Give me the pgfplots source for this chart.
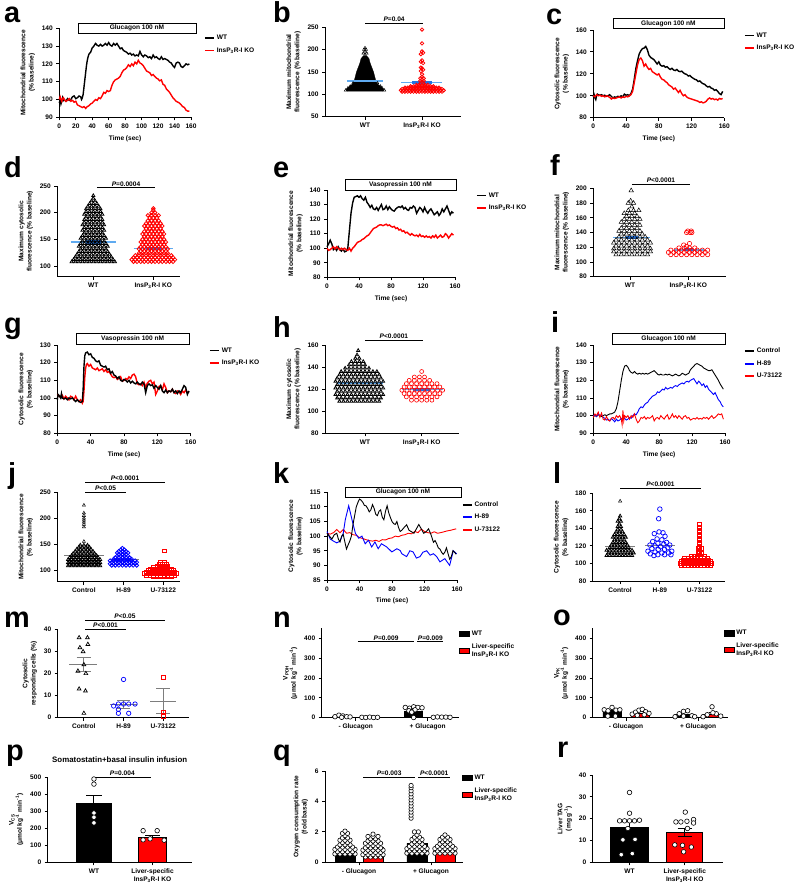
\documentclass[border=0pt]{standalone}
\usepackage{fontspec}
\setmainfont{Liberation Sans}
\usepackage{pgfplots}
\pgfplotsset{compat=1.18}

\definecolor{gpred}{RGB}{255,0,0}
\definecolor{gpblue}{RGB}{0,0,255}
\definecolor{mblue}{RGB}{95,170,240}
\definecolor{sblue}{RGB}{35,115,225}
\definecolor{mgray}{RGB}{125,125,125}

\newcommand{\gpf}{\fontsize{6.6}{8.3}\selectfont\bfseries}
\newcommand{\ko}{InsP\textsubscript{3}R-I KO}
\newcommand{\livko}{Liver-specific\\InsP\textsubscript{3}R-I KO}
\newcommand{\rate}{(μmol kg\textsuperscript{-1} min\textsuperscript{-1})}
\newcommand{\plab}[3]{\node[anchor=base west,inner sep=0pt,font=\fontsize{29}{29}\selectfont\bfseries] at (#1bp,-#2bp) {#3};}
\newcommand{\pbar}[4]{\draw[line width=0.9bp] (axis cs:#1,#3) -- (axis cs:#2,#3) node[midway,above,inner sep=1bp,font=\gpf] {#4};}
\newcommand{\stim}[5]{\node[draw,line width=0.9bp,fill=white,minimum width=#3bp,minimum height=#4bp,inner sep=0pt,font=\gpf] at (axis cs:#1,#2) {#5};}

\pgfplotsset{
  gp/.style={
    scale only axis, anchor=north west, clip=false,
    axis x line=bottom, axis y line=left,
    axis line style={-, line width=0.9bp},
    tick align=outside, major tick length=3bp,
    every tick/.style={black, line width=0.9bp},
    font=\gpf, tick label style={font=\gpf},
    /pgf/number format/assume math mode=true,
    ylabel style={align=center}, xticklabel style={align=center},
    legend style={draw=none, fill=none, font=\gpf, inner sep=0pt, outer sep=0pt,
      row sep=2.5bp, cells={anchor=west, align=left}},
    legend cell align=left,
  },
  legline/.style={legend image code/.code={\draw[##1, line width=1.8bp] (0bp,0bp) -- (9bp,0bp);}},
  legbox/.style={legend image code/.code={\draw[##1, draw=black, line width=0.5bp] (0bp,-2.5bp) rectangle (10bp,3bp);}},
  ts/.style={gp, legline, xmin=0, xmax=160, xlabel={Time (sec)}},
  tri/.style={only marks, mark=triangle, line width=0.5bp},
  cir/.style={only marks, mark=o, line width=0.6bp},
  sqr/.style={only marks, mark=square, line width=0.6bp},
  wdot/.style={only marks, mark=*, mark size=2.3bp, mark options={fill=white, draw=black, line width=0.6bp}},
  bar/.style={ybar, bar shift=0pt, draw=black, line width=0.8bp, forget plot},
}

\begin{document}
\begin{tikzpicture}
\useasboundingbox (0,0) rectangle (800bp,-883bp);

\plab{4}{22}{a}\plab{273}{22}{b}\plab{546}{24}{c}
\plab{4}{177}{d}\plab{273}{177}{e}\plab{550}{175}{f}
\plab{4}{333}{g}\plab{273}{337}{h}\plab{551}{332}{i}
\plab{8}{483}{j}\plab{273}{483}{k}\plab{553}{483}{l}
\plab{4}{627}{m}\plab{273}{627}{n}\plab{553}{625}{o}
\plab{6}{760}{p}\plab{273}{760}{q}\plab{557}{757}{r}

% ---------------- a
\begin{axis}[ts, at={(59.3bp,-28.3bp)}, width=131.7bp, height=89bp,
  ymin=90, ymax=140, xtick={0,20,...,160}, ytick={90,100,...,140},
  ylabel={Mitochondrial fluorescence\\(\% baseline)},
  legend style={at={(1.099,0.947)}, anchor=north west}]
\addlegendimage{black}\addlegendentry{WT}
\addlegendimage{gpred}\addlegendentry{\ko}
\addplot[black, line width=1.4bp] coordinates {(0,98)(1,100)(2,97.5)(3,99)(4,101)(5,99.5)(6,100)(8,99)(10,100.5)(12,99.5)(14,100)(16,101.5)(18,102)(20,100.5)(22,101)(24,102)(26,101.5)(27,100)(28,101)(29,103)(30,107)(31,111)(32,115)(33,119)(34,122)(35,124)(36,125.5)(38,126.5)(40,129)(42,130)(44,131.5)(46,130.5)(48,130)(50,131)(52,130)(54,130.5)(56,131.5)(58,130.5)(60,132)(62,130.5)(64,130)(66,131.5)(68,130.5)(70,131.5)(72,130)(74,128.5)(76,129)(78,127.5)(80,127)(82,126.5)(84,125.5)(86,126)(88,125)(90,125.5)(92,124.5)(94,125)(96,124.5)(98,127)(100,125)(102,124)(104,125)(106,124.5)(108,123.5)(110,124)(112,123)(114,125)(116,123.5)(118,124)(120,123)(122,122.5)(124,124)(126,122.5)(128,123)(130,122.5)(132,122)(134,121)(136,120.5)(138,119)(140,118)(142,120.5)(144,121)(146,120.5)(148,118.5)(150,118)(152,119)(154,120)(156,119.5)(158,120)};
\addplot[gpred, line width=1.4bp] coordinates {(0,100)(1,101.5)(2,100)(3,99)(4,100.5)(5,101)(6,100)(8,99)(10,99.5)(12,100.5)(14,99)(16,99.5)(18,98.5)(20,99)(22,97)(24,96.5)(26,96)(28,95.5)(30,96)(32,95)(34,96)(36,96.5)(38,97.5)(40,98)(42,99)(44,100)(46,99.5)(48,101)(50,100.5)(52,102)(54,104)(56,103.5)(58,105)(60,104.5)(62,105)(64,108)(66,110)(68,111)(70,111.5)(72,112)(74,113)(76,115)(78,116.5)(80,117)(82,118)(84,119.5)(86,118.5)(88,120)(90,119)(92,121)(94,120)(96,122)(98,120.5)(100,120)(102,119)(104,117.5)(106,116)(108,115.5)(110,115)(112,113.5)(114,114)(116,113)(118,112)(120,111.5)(122,110.5)(124,111)(126,108.5)(128,108)(130,106)(132,105)(134,104)(136,102.5)(138,101)(140,100)(142,99)(144,98.5)(146,98)(148,97)(150,96)(152,95.5)(154,94)(156,93.5)(158,93.5)};
\stim{94.4}{140}{118}{10}{Glucagon 100 nM}
\end{axis}

% ---------------- b
\begin{axis}[gp, at={(325bp,-27.3bp)}, width=136bp, height=89.4bp,
  xmin=0.298, xmax=2.684, ymin=50, ymax=250, xtick={1,2}, xticklabels={WT,\ko},
  ytick={50,100,...,250}, ylabel={Maximum mitochondrial\\fluorescence (\% baseline)}]
\addplot[fill=black, draw=black, line width=0.3bp] coordinates {(0.69,107)(1.31,107)(1.33,110)(1.31,114)(1.27,118)(1.22,123)(1.19,130)(1.17,140)(1.15,150)(1.12,160)(1.09,170)(1.07,180)(1.03,186)(0.97,186)(0.93,180)(0.91,170)(0.88,160)(0.85,150)(0.83,140)(0.81,130)(0.78,123)(0.73,118)(0.69,114)(0.67,110)(0.69,107)};
\addplot[tri, black, mark size=1.6bp] coordinates {(1.0,189)(0.97,192)(1.03,192)(1.0,196)(0.98,200)(1.02,200)(1.0,204)(0.66,109)(1.34,109)(0.7,114)(1.3,114)(0.74,118)(1.27,118)(0.79,125)(1.22,125)};
\addplot[cir, gpred, mark size=1.7bp, line width=0.8bp] coordinates {
(1.65,106)(1.70,106)(1.75,106)(1.80,106)(1.85,106)(1.90,106)(1.95,106)(2.00,106)(2.05,106)(2.10,106)(2.15,106)(2.20,106)(2.25,106)(2.30,106)(2.35,106)
(1.63,109)(1.68,109)(1.73,109)(1.78,109)(1.83,109)(1.88,109)(1.93,109)(1.98,109)(2.03,109)(2.08,109)(2.13,109)(2.18,109)(2.23,109)(2.28,109)(2.33,109)(2.38,109)
(1.65,112)(1.70,112)(1.75,112)(1.80,112)(1.85,112)(1.90,112)(1.95,112)(2.00,112)(2.05,112)(2.10,112)(2.15,112)(2.20,112)(2.25,112)(2.30,112)(2.35,112)
(1.70,115)(1.75,115)(1.80,115)(1.85,115)(1.90,115)(1.95,115)(2.00,115)(2.05,115)(2.10,115)(2.15,115)(2.20,115)(2.25,115)(2.30,115)
(1.80,118)(1.85,118)(1.90,118)(1.95,118)(2.00,118)(2.05,118)(2.10,118)(2.15,118)(2.20,118)
(1.90,121)(1.95,121)(2.00,121)(2.05,121)(2.10,121)
(1.97,124)(2.03,124)(2.0,127)(1.97,130)(2.03,130)(2.0,133)(1.97,136)(2.03,136)(2.0,139)(2.0,145)(1.98,152)(2.02,155)(2.0,158)(1.98,160)(2.02,170)(1.98,173)(2.0,176)(1.98,190)(2.02,193)(2.0,196)(2.0,214)(2.0,245)};
\addplot[mblue, line width=1.5bp] coordinates {(0.68,130)(1.32,130)};
\addplot[mblue, line width=1.5bp] coordinates {(1.63,127)(2.35,127)};
\addplot[sblue, line width=3.5bp] coordinates {(1.83,127)(2.17,127)};
\pbar{1.0}{2.02}{259}{\textit{P}=0.04}
\end{axis}

% ---------------- c
\begin{axis}[ts, at={(593.3bp,-30bp)}, width=131bp, height=87.7bp,
  ymin=80, ymax=160, xtick={0,40,...,160}, ytick={80,100,...,160},
  ylabel={Cytosolic fluorescence\\(\% baseline)},
  legend style={at={(1.15,0.994)}, anchor=north west}]
\addlegendimage{black}\addlegendentry{WT}
\addlegendimage{gpred}\addlegendentry{\ko}
\addplot[black, line width=1.4bp] coordinates {(0,99)(1,101)(2,98)(3,96.5)(4,100)(5,101.5)(6,101)(8,100.5)(10,101)(12,100)(14,100.5)(16,99.5)(18,100)(20,101)(22,99.5)(24,98)(26,99)(28,98.5)(30,99.5)(32,99)(34,100)(36,99)(38,101.5)(40,100.5)(42,101)(44,100)(46,102)(48,106)(50,115)(52,125)(54,132)(56,138)(58,141)(60,143)(62,143.5)(64,145)(66,142)(68,137)(70,135)(72,134)(74,133)(76,131)(78,129)(80,131)(82,128)(84,127)(86,127.5)(88,126)(90,126.5)(92,125)(94,124)(96,125)(98,123.5)(100,123)(102,124)(104,122.5)(106,122)(108,122.5)(110,121)(112,120)(114,119.5)(116,118)(118,118.5)(120,117)(122,116)(124,115)(126,114.5)(128,113)(130,113.5)(132,112)(134,111)(136,110.5)(138,109)(140,108)(142,108.5)(144,107)(146,106.5)(148,105)(150,105.5)(152,104)(154,102)(156,101)(158,104)};
\addplot[gpred, line width=1.4bp] coordinates {(0,100)(2,99)(4,101)(6,100)(8,100.5)(10,99.5)(12,100)(14,99)(16,100)(18,99.5)(20,98.5)(22,97)(24,98)(26,97.5)(28,98)(30,98.5)(32,99)(34,98)(36,99)(38,98.5)(40,99.5)(42,99)(44,100)(46,101)(48,104)(50,112)(52,120)(54,128)(56,133)(58,134.5)(60,132)(62,127)(64,129)(66,126)(68,124)(70,125)(72,122)(74,121)(76,120)(78,119)(80,120)(82,117)(84,115)(86,114.5)(88,113)(90,112)(92,110)(94,109)(96,108)(98,106)(100,107)(102,105)(104,103)(106,105)(108,102)(110,100)(112,101)(114,99)(116,98)(118,97.5)(120,97)(122,96.5)(124,96)(126,95.5)(128,95)(130,94)(132,94.5)(134,93.5)(136,94)(138,95)(140,97)(142,98)(144,97)(146,97.5)(148,96.5)(150,97)(152,96)(154,97.5)(156,97)(158,97.5)};
\stim{91.8}{165.9}{111}{9.5}{Glucagon 100 nM}
\end{axis}

% ---------------- d
\begin{axis}[gp, at={(57.3bp,-186bp)}, width=122.7bp, height=90.7bp,
  xmin=0.4, xmax=2.445, ymin=80, ymax=250, xtick={1,2}, xticklabels={WT,\ko},
  ytick={100,150,200,250}, ylabel={Maximum cytosolic\\fluorescence (\% baseline)}]
\addplot[tri, black, mark size=1.8bp, line width=0.8bp] coordinates {
(0.64,108)(0.70,108)(0.76,108)(0.82,108)(0.88,108)(0.94,108)(1.00,108)(1.06,108)(1.12,108)(1.18,108)(1.24,108)(1.30,108)(1.36,108)
(0.67,112)(0.73,112)(0.79,112)(0.85,112)(0.91,112)(0.97,112)(1.03,112)(1.09,112)(1.15,112)(1.21,112)(1.27,112)(1.33,112)
(0.70,117)(0.76,117)(0.82,117)(0.88,117)(0.94,117)(1.00,117)(1.06,117)(1.12,117)(1.18,117)(1.24,117)(1.30,117)
(0.73,122)(0.79,122)(0.85,122)(0.91,122)(0.97,122)(1.03,122)(1.09,122)(1.15,122)(1.21,122)(1.27,122)
(0.76,127)(0.82,127)(0.88,127)(0.94,127)(1.00,127)(1.06,127)(1.12,127)(1.18,127)(1.24,127)
(0.79,132)(0.85,132)(0.91,132)(0.97,132)(1.03,132)(1.09,132)(1.15,132)(1.21,132)
(0.76,137)(0.82,137)(0.88,137)(0.94,137)(1.00,137)(1.06,137)(1.12,137)(1.18,137)(1.24,137)
(0.79,142)(0.85,142)(0.91,142)(0.97,142)(1.03,142)(1.09,142)(1.15,142)(1.21,142)
(0.82,147)(0.88,147)(0.94,147)(1.00,147)(1.06,147)(1.12,147)(1.18,147)
(0.79,152)(0.85,152)(0.91,152)(0.97,152)(1.03,152)(1.09,152)(1.15,152)(1.21,152)
(0.82,157)(0.88,157)(0.94,157)(1.00,157)(1.06,157)(1.12,157)(1.18,157)
(0.85,162)(0.91,162)(0.97,162)(1.03,162)(1.09,162)(1.15,162)
(0.82,167)(0.88,167)(0.94,167)(1.00,167)(1.06,167)(1.12,167)(1.18,167)
(0.85,172)(0.91,172)(0.97,172)(1.03,172)(1.09,172)(1.15,172)
(0.82,177)(0.88,177)(0.94,177)(1.00,177)(1.06,177)(1.12,177)(1.18,177)
(0.85,182)(0.91,182)(0.97,182)(1.03,182)(1.09,182)(1.15,182)
(0.85,187)(0.91,187)(0.97,187)(1.03,187)(1.09,187)(1.15,187)
(0.88,192)(0.94,192)(1.00,192)(1.06,192)(1.12,192)
(0.85,197)(0.91,197)(0.97,197)(1.03,197)(1.09,197)(1.15,197)
(0.88,202)(0.94,202)(1.00,202)(1.06,202)(1.12,202)
(0.88,207)(0.94,207)(1.00,207)(1.06,207)(1.12,207)
(0.91,212)(0.97,212)(1.03,212)(1.09,212)
(0.94,217)(1.00,217)(1.06,217)(0.97,222)(1.03,222)(1.00,227)(1.00,232)};
\addplot[cir, gpred, mark size=1.8bp, line width=0.8bp] coordinates {
(1.67,108)(1.73,108)(1.79,108)(1.85,108)(1.91,108)(1.97,108)(2.03,108)(2.09,108)(2.15,108)(2.21,108)(2.27,108)(2.33,108)
(1.64,112)(1.70,112)(1.76,112)(1.82,112)(1.88,112)(1.94,112)(2.00,112)(2.06,112)(2.12,112)(2.18,112)(2.24,112)(2.30,112)(2.36,112)
(1.67,116)(1.73,116)(1.79,116)(1.85,116)(1.91,116)(1.97,116)(2.03,116)(2.09,116)(2.15,116)(2.21,116)(2.27,116)(2.33,116)
(1.70,120)(1.76,120)(1.82,120)(1.88,120)(1.94,120)(2.00,120)(2.06,120)(2.12,120)(2.18,120)(2.24,120)(2.30,120)
(1.76,124)(1.82,124)(1.88,124)(1.94,124)(2.00,124)(2.06,124)(2.12,124)(2.18,124)(2.24,124)
(1.79,128)(1.85,128)(1.91,128)(1.97,128)(2.03,128)(2.09,128)(2.15,128)(2.21,128)
(1.76,132)(1.82,132)(1.88,132)(1.94,132)(2.00,132)(2.06,132)(2.12,132)(2.18,132)(2.24,132)
(1.79,136)(1.85,136)(1.91,136)(1.97,136)(2.03,136)(2.09,136)(2.15,136)(2.21,136)
(1.82,140)(1.88,140)(1.94,140)(2.00,140)(2.06,140)(2.12,140)(2.18,140)
(1.79,145)(1.85,145)(1.91,145)(1.97,145)(2.03,145)(2.09,145)(2.15,145)(2.21,145)
(1.82,150)(1.88,150)(1.94,150)(2.00,150)(2.06,150)(2.12,150)(2.18,150)
(1.85,155)(1.91,155)(1.97,155)(2.03,155)(2.09,155)(2.15,155)
(1.82,160)(1.88,160)(1.94,160)(2.00,160)(2.06,160)(2.12,160)(2.18,160)
(1.85,165)(1.91,165)(1.97,165)(2.03,165)(2.09,165)(2.15,165)
(1.88,170)(1.94,170)(2.00,170)(2.06,170)(2.12,170)
(1.85,175)(1.91,175)(1.97,175)(2.03,175)(2.09,175)(2.15,175)
(1.88,180)(1.94,180)(2.00,180)(2.06,180)(2.12,180)
(1.91,185)(1.97,185)(2.03,185)(2.09,185)(1.94,190)(2.00,190)(2.06,190)
(1.91,195)(1.97,195)(2.03,195)(2.09,195)(1.97,200)(2.03,200)(2.00,205)(2.00,208)};
\addplot[mblue, line width=1.5bp] coordinates {(0.62,145)(1.37,145)};
\addplot[sblue, line width=3.5bp] coordinates {(0.87,145)(1.13,145)};
\addplot[mblue, line width=1.5bp] coordinates {(1.67,133)(2.33,133)};
\addplot[sblue, line width=3.5bp] coordinates {(1.88,133)(2.12,133)};
\pbar{1.06}{2.03}{246.8}{\textit{P}=0.0004}
\end{axis}

% ---------------- e
\begin{axis}[ts, at={(327bp,-190bp)}, width=128bp, height=87.3bp,
  ymin=80, ymax=140, xtick={0,40,...,160}, ytick={80,90,...,140},
  ylabel={Mitochondrial fluorescence\\(\% baseline)},
  legend style={at={(1.164,0.994)}, anchor=north west}]
\addlegendimage{black}\addlegendentry{WT}
\addlegendimage{gpred}\addlegendentry{\ko}
\addplot[black, line width=1.4bp] coordinates {(0,101)(2,103)(4,105.5)(6,103)(8,99)(10,100)(12,98.5)(14,101)(16,99)(18,98)(20,99.5)(22,97.5)(24,98)(26,100)(28,112)(30,124)(32,131)(34,135)(36,135.5)(38,136)(40,135)(42,136)(44,134)(46,133)(48,135)(50,131.5)(52,130)(54,128)(56,129.5)(58,127)(60,126.5)(62,128)(64,126)(66,128)(68,130)(70,126.5)(72,127)(74,129)(76,126.5)(78,128.5)(80,127)(82,126)(84,125.5)(86,127)(88,128)(90,128.5)(92,128)(94,129)(96,127)(98,128)(100,126.5)(102,126)(104,128)(106,127.5)(108,129)(110,128)(112,124)(114,126)(116,128)(118,127)(120,125)(122,128)(124,125.5)(126,124)(128,126)(130,127)(132,125)(134,123)(136,124)(138,125)(140,122.5)(142,124)(144,127)(146,125)(148,127)(150,129)(152,126)(154,123)(156,125)(158,124)};
\addplot[gpred, line width=1.4bp] coordinates {(0,100)(2,98.5)(4,99)(6,100)(8,101)(10,99.5)(12,101)(14,100)(16,99)(18,100)(20,99)(22,100)(24,99)(26,98.5)(28,100)(30,98)(32,100)(34,101)(36,102.5)(38,104)(40,104.5)(42,105)(44,106)(46,106.5)(48,107.5)(50,108.5)(52,109)(54,110.5)(56,112)(58,113.5)(60,114)(62,114.5)(64,115.5)(66,116)(68,116)(70,115.5)(72,116)(74,116.5)(76,115.5)(78,116)(80,115)(82,114.5)(84,115)(86,113.5)(88,114)(90,112.5)(92,113)(94,111.5)(96,112)(98,110.5)(100,111)(102,110)(104,109)(106,110)(108,109)(110,108.5)(112,109)(114,108)(116,109.5)(118,108)(120,108.5)(122,107.5)(124,108.5)(126,107.5)(128,108)(130,107)(132,108.5)(134,107.5)(136,109)(138,107)(140,108)(142,109)(144,107.5)(146,108)(148,110)(150,109)(152,107)(154,108.5)(156,110)(158,109)};
\stim{91.9}{143.4}{111}{11}{Vasopressin 100 nM}
\end{axis}

% ---------------- f
\begin{axis}[gp, at={(593.3bp,-188.3bp)}, width=132.7bp, height=88.4bp,
  xmin=0.37, xmax=2.646, ymin=80, ymax=200, xtick={1,2}, xticklabels={WT,\ko},
  ytick={80,100,...,200}, ylabel={Maximum mitochondrial\\fluorescence (\% baseline)}]
\addplot[tri, black, mark size=2.5bp] coordinates {
(0.76,110)(0.85,110)(0.94,110)(1.03,110)(1.12,110)(1.21,110)(1.30,110)
(0.72,114)(0.81,114)(0.90,114)(0.99,114)(1.08,114)(1.17,114)(1.26,114)(1.35,114)
(0.72,118)(0.81,118)(0.90,118)(0.99,118)(1.08,118)(1.17,118)(1.26,118)(1.35,118)
(0.76,122)(0.85,122)(0.94,122)(1.03,122)(1.12,122)(1.21,122)(1.30,122)
(0.72,126)(0.81,126)(0.90,126)(0.99,126)(1.08,126)(1.17,126)(1.26,126)(1.35,126)
(0.76,130)(0.85,130)(0.94,130)(1.03,130)(1.12,130)(1.21,130)(1.30,130)
(0.81,134)(0.90,134)(0.99,134)(1.08,134)(1.17,134)(1.26,134)
(0.85,138)(0.94,138)(1.03,138)(1.12,138)(1.21,138)
(0.81,142)(0.90,142)(0.99,142)(1.08,142)(1.17,142)
(0.85,146)(0.94,146)(1.03,146)(1.12,146)
(0.90,150)(0.99,150)(1.08,150)(1.17,150)
(0.85,154)(0.94,154)(1.03,154)(1.12,154)
(0.90,158)(0.99,158)(1.08,158)(1.17,158)
(0.94,162)(1.03,162)(1.12,162)(0.90,166)(0.99,166)(1.08,166)
(0.97,170)(1.06,170)(1.15,170)(1.03,175)(0.97,180)(1.06,180)(1.01,183)(1.02,197)};
\addplot[cir, gpred, mark size=2.2bp] coordinates {
(1.70,110)(1.79,110)(1.88,110)(1.97,110)(2.06,110)(2.15,110)(2.24,110)(2.33,110)
(1.66,113)(1.75,113)(1.84,113)(1.93,113)(2.02,113)(2.11,113)(2.20,113)(2.29,113)
(1.70,116)(1.79,116)(1.88,116)(1.97,116)(2.06,116)(2.15,116)(2.24,116)(2.33,116)
(1.84,119)(1.93,119)(2.02,119)(2.11,119)(1.97,121)(1.92,123)(2.02,125)
(1.97,140)(2.03,140)(2.06,140)(1.99,142)(2.05,142)};
\addplot[mblue, line width=1.5bp] coordinates {(0.71,133.5)(1.34,133.5)};
\addplot[sblue, line width=3bp] coordinates {(0.93,133.5)(1.13,133.5)};
\addplot[mblue, line width=1.5bp] coordinates {(1.75,116.5)(2.27,116.5)};
\addplot[sblue, line width=3bp] coordinates {(1.92,116.5)(2.08,116.5)};
\pbar{1.03}{2.03}{205.8}{\textit{P}<0.0001}
\end{axis}

% ---------------- g
\begin{axis}[ts, at={(57.3bp,-345bp)}, width=133.4bp, height=88.3bp,
  ymin=80, ymax=130, xtick={0,40,...,160}, ytick={80,90,...,130},
  ylabel={Cytosolic fluorescence\\(\% baseline)},
  legend style={at={(1.137,0.994)}, anchor=north west}]
\addlegendimage{black}\addlegendentry{WT}
\addlegendimage{gpred}\addlegendentry{\ko}
\addplot[gpred, line width=1.4bp] coordinates {(0,102)(2,101)(4,100.5)(6,101.5)(8,99.5)(10,101)(12,100)(14,99)(16,101)(18,100.5)(20,99)(22,101)(24,99)(26,98)(28,99)(30,97)(31,98)(32,104)(33,112)(34,117)(35,119)(36,119.5)(38,118)(40,119)(42,117)(44,116.5)(46,116)(48,117)(50,115.5)(52,116)(54,116.5)(56,115)(58,116)(60,114.5)(62,115)(64,113.5)(66,112)(68,111.5)(70,112)(72,110.5)(74,111)(76,112)(78,109.5)(80,110)(82,111)(84,110.5)(86,112)(88,111)(90,113)(92,113.5)(94,112)(96,108)(98,107.5)(100,108)(102,107)(104,109)(106,106)(108,108.5)(110,109.5)(112,110)(114,108)(116,109)(118,102)(120,104)(122,106.5)(124,107)(126,104.5)(128,108)(130,106)(132,103)(134,104)(136,103.5)(138,105)(140,103)(142,102.5)(144,104)(146,103.5)(148,102)(150,104)(152,103)(154,104.5)(156,103)(158,103.5)};
\addplot[black, line width=1.4bp] coordinates {(0,99)(1,102)(2,101.5)(4,100)(5,102.5)(6,100)(8,99.5)(10,100)(12,99)(14,100)(16,99.5)(18,100)(20,99)(22,98)(24,99)(26,98)(28,97.5)(30,98)(31,105)(32,118)(33,124)(34,125.5)(36,126)(38,124.5)(40,125)(42,123)(44,122.5)(46,121)(48,120.5)(50,121)(52,118.5)(54,118)(56,117.5)(58,118)(60,116)(62,116.5)(64,114)(66,115)(68,113)(70,112.5)(72,111)(74,112)(76,110)(78,109.5)(80,110.5)(82,110)(84,109)(86,110)(88,108.5)(90,109.5)(92,108.5)(94,108)(96,109)(98,108)(100,107.5)(102,109)(104,108)(106,103)(108,107)(110,108)(112,107)(114,107.5)(116,105.5)(118,107)(120,106)(122,105)(124,107)(126,104)(128,103)(130,104.5)(132,103)(134,104)(136,103.5)(138,105)(140,103)(142,104)(144,102.5)(146,104)(148,103)(150,105)(152,107)(154,106)(156,102)(158,104)};
\stim{90.4}{133.7}{113}{11}{Vasopressin 100 nM}
\end{axis}

% ---------------- h
\begin{axis}[gp, at={(325bp,-345bp)}, width=134bp, height=88.3bp,
  xmin=0.295, xmax=2.658, ymin=80, ymax=160, xtick={1,2}, xticklabels={WT,\ko},
  ytick={80,100,...,160}, ylabel={Maximum cytosolic\\fluorescence (\% baseline)}]
\addplot[tri, black, mark size=1.8bp, line width=0.8bp] coordinates {
(0.55,109)(0.62,109)(0.69,109)(0.76,109)(0.83,109)(0.90,109)(0.97,109)(1.04,109)(1.11,109)(1.18,109)(1.25,109)
(0.51,112)(0.58,112)(0.65,112)(0.72,112)(0.79,112)(0.86,112)(0.93,112)(1.00,112)(1.07,112)(1.14,112)(1.21,112)(1.28,112)
(0.48,115)(0.55,115)(0.62,115)(0.69,115)(0.76,115)(0.83,115)(0.90,115)(0.97,115)(1.04,115)(1.11,115)(1.18,115)(1.25,115)(1.32,115)
(0.51,118)(0.58,118)(0.65,118)(0.72,118)(0.79,118)(0.86,118)(0.93,118)(1.00,118)(1.07,118)(1.14,118)(1.21,118)(1.28,118)
(0.48,121)(0.55,121)(0.62,121)(0.69,121)(0.76,121)(0.83,121)(0.90,121)(0.97,121)(1.04,121)(1.11,121)(1.18,121)(1.25,121)(1.32,121)
(0.51,124)(0.58,124)(0.65,124)(0.72,124)(0.79,124)(0.86,124)(0.93,124)(1.00,124)(1.07,124)(1.14,124)(1.21,124)(1.28,124)
(0.48,127)(0.55,127)(0.62,127)(0.69,127)(0.76,127)(0.83,127)(0.90,127)(0.97,127)(1.04,127)(1.11,127)(1.18,127)(1.25,127)(1.32,127)
(0.51,130)(0.58,130)(0.65,130)(0.72,130)(0.79,130)(0.86,130)(0.93,130)(1.00,130)(1.07,130)(1.14,130)(1.21,130)(1.28,130)
(0.55,133)(0.62,133)(0.69,133)(0.76,133)(0.83,133)(0.90,133)(0.97,133)(1.04,133)(1.11,133)(1.18,133)(1.25,133)
(0.58,136)(0.65,136)(0.72,136)(0.79,136)(0.86,136)(0.93,136)(1.00,136)(1.07,136)(1.14,136)(1.21,136)
(0.65,139)(0.72,139)(0.79,139)(0.86,139)(0.93,139)(1.00,139)(1.07,139)
(0.72,142)(0.79,142)(0.86,142)(0.93,142)(1.00,142)
(0.76,145)(0.83,145)(0.90,145)(0.97,145)(0.83,148)(0.90,148)(0.86,151)(0.88,155)};
\addplot[cir, gpred, mark size=2bp] coordinates {
(1.82,110)(1.91,110)(2.00,110)(2.09,110)(2.18,110)
(1.73,113)(1.82,113)(1.91,113)(2.00,113)(2.09,113)(2.18,113)(2.27,113)
(1.69,116)(1.78,116)(1.87,116)(1.96,116)(2.05,116)(2.14,116)(2.23,116)(2.32,116)
(1.65,119)(1.74,119)(1.83,119)(1.92,119)(2.01,119)(2.10,119)(2.19,119)(2.28,119)(2.37,119)
(1.69,122)(1.78,122)(1.87,122)(1.96,122)(2.05,122)(2.14,122)(2.23,122)(2.32,122)
(1.73,125)(1.82,125)(1.91,125)(2.00,125)(2.09,125)(2.18,125)(2.27,125)
(1.78,128)(1.87,128)(1.96,128)(2.05,128)(2.14,128)
(1.87,131)(1.96,131)(2.05,131)(2.00,136)};
\addplot[mblue, line width=1.5bp] coordinates {(0.5,125.5)(1.32,125.5)};
\addplot[mblue, line width=1.5bp] coordinates {(1.65,119.5)(2.37,119.5)};
\addplot[sblue, line width=3bp] coordinates {(1.85,119.5)(2.15,119.5)};
\pbar{1.0}{2.02}{164.5}{\textit{P}<0.0001}
\end{axis}

% ---------------- i
\begin{axis}[ts, at={(593.3bp,-345bp)}, width=131.7bp, height=88.3bp,
  ymin=90, ymax=140, xtick={0,40,...,160}, ytick={90,100,...,140},
  ylabel={Mitochondrial fluorescence\\(\% baseline)},
  legend style={at={(1.144,0.989)}, anchor=north west}]
\addlegendimage{black}\addlegendentry{Control}
\addlegendimage{gpblue}\addlegendentry{H-89}
\addlegendimage{gpred}\addlegendentry{U-73122}
\addplot[black, line width=0.9bp] coordinates {(0,99.5)(2,100)(4,99.5)(6,100.5)(8,100)(10,99.5)(12,100)(14,100.5)(16,100)(18,100.5)(20,101)(22,101)(24,101.5)(26,102)(28,104)(30,108)(32,114)(34,120)(36,125)(38,128)(40,128.5)(42,127.5)(44,125.5)(46,124.5)(48,124)(50,125)(52,124)(54,123.5)(56,124)(58,123.5)(60,124)(62,123.5)(64,124)(66,123.5)(68,124)(70,124.5)(72,125)(74,125.5)(76,124.5)(78,123.5)(80,123)(82,123.5)(84,123)(86,123)(88,123.5)(90,123)(92,123.5)(94,123)(96,122.5)(98,123)(100,123.5)(102,123)(104,122.5)(106,123)(108,124)(110,123.5)(112,123)(114,123.5)(116,124)(118,126)(120,127)(122,128)(124,129)(126,129.5)(128,129)(130,128.5)(132,128)(134,127)(136,126.5)(138,126)(140,125.5)(142,125.5)(144,126)(146,124.5)(148,123)(150,121.5)(152,120)(154,118)(156,116.5)(158,115)};
\addplot[gpblue, line width=0.9bp] coordinates {(0,100)(2,100.5)(4,99.5)(6,101)(8,100)(10,100.5)(12,99)(14,98.5)(16,97.5)(18,98)(20,97)(22,98.5)(24,97.5)(26,96.5)(28,98)(30,97)(32,97.5)(34,98.5)(36,98)(38,98.5)(40,97.5)(42,98)(44,99)(46,98.5)(48,100)(50,101)(52,100.5)(54,102)(56,104)(58,105)(60,104.5)(62,106)(64,107)(66,107.5)(68,109)(70,110)(72,111)(74,111.5)(76,112)(78,113.5)(80,113)(82,114)(84,115)(86,114.5)(88,116)(90,115)(92,115.5)(94,116)(96,115.5)(98,116.5)(100,117)(102,116.5)(104,117.5)(106,118)(108,118.5)(110,118)(112,119)(114,119.5)(116,119)(118,120)(120,120.5)(122,121)(124,119.5)(126,118)(128,119.5)(130,118.5)(132,117)(134,118)(136,116)(138,117)(140,115)(142,114)(144,113)(146,112)(148,113)(150,111)(152,109)(154,108)(156,106)(158,105)};
\addplot[gpred, line width=0.9bp] coordinates {(0,99)(2,101)(4,100)(6,102)(8,99)(10,101.5)(12,98)(14,97.5)(16,99.5)(18,97.5)(20,97)(22,98.5)(24,99)(26,98)(28,100)(30,99)(32,100)(34,98)(35,95)(36,103)(37,97)(38,100)(40,99)(42,100)(44,98)(46,100)(48,99)(50,101)(52,98)(54,96)(56,97)(58,99)(60,98.5)(62,99.5)(64,98)(66,99)(68,98.5)(70,99)(72,100)(74,97)(76,98.5)(78,99)(80,98)(82,100)(84,99)(86,98)(88,99.5)(90,100.5)(92,98)(94,99)(96,101)(98,99)(100,100)(102,98.5)(104,100)(106,99)(108,98)(110,99.5)(112,100)(114,98.5)(116,99)(118,97.5)(120,98)(122,98.5)(124,98)(126,99)(128,98)(130,98.5)(132,98)(134,99)(136,98.5)(138,99)(140,98)(142,99)(144,100)(146,98.5)(148,99)(150,100)(152,101)(154,100.5)(156,101)(158,98)};
\stim{91.6}{143.6}{113}{11}{Glucagon 100 nM}
\end{axis}

% ---------------- j
\begin{axis}[gp, at={(57.3bp,-492.3bp)}, width=122.7bp, height=89.4bp,
  xmin=0.33, xmax=3.42, ymin=77.4, ymax=250, xtick={1,2,3}, xticklabels={Control,H-89,U-73122},
  ytick={100,150,200,250}, ylabel={Mitochondrial fluorescence\\(\% baseline)}]
\addplot[tri, black, mark size=1.8bp, line width=0.8bp] coordinates {
(0.60,108)(0.69,108)(0.78,108)(0.87,108)(0.96,108)(1.05,108)(1.14,108)(1.23,108)(1.32,108)(1.41,108)
(0.64,111)(0.73,111)(0.82,111)(0.91,111)(1.00,111)(1.09,111)(1.18,111)(1.27,111)(1.36,111)
(0.60,114)(0.69,114)(0.78,114)(0.87,114)(0.96,114)(1.05,114)(1.14,114)(1.23,114)(1.32,114)(1.41,114)
(0.64,117)(0.73,117)(0.82,117)(0.91,117)(1.00,117)(1.09,117)(1.18,117)(1.27,117)(1.36,117)
(0.60,120)(0.69,120)(0.78,120)(0.87,120)(0.96,120)(1.05,120)(1.14,120)(1.23,120)(1.32,120)(1.41,120)
(0.64,124)(0.73,124)(0.82,124)(0.91,124)(1.00,124)(1.09,124)(1.18,124)(1.27,124)(1.36,124)
(0.69,128)(0.78,128)(0.87,128)(0.96,128)(1.05,128)(1.14,128)(1.23,128)(1.32,128)
(0.73,132)(0.82,132)(0.91,132)(1.00,132)(1.09,132)(1.18,132)(1.27,132)
(0.78,136)(0.87,136)(0.96,136)(1.05,136)(1.14,136)(1.23,136)
(0.82,140)(0.91,140)(1.00,140)(1.09,140)(1.18,140)
(0.87,144)(0.96,144)(1.05,144)(1.14,144)(0.91,148)(1.00,148)(1.09,148)};
\addplot[tri, black, mark size=1.8bp] coordinates {(1.0,155)(1.0,183)(1.0,188)(1.0,192)(1.0,196)(1.0,200)(1.0,205)(1.0,210)(1.0,225)};
\addplot[cir, gpblue, mark size=1.9bp, line width=0.8bp] coordinates {
(1.70,109)(1.79,109)(1.88,109)(1.97,109)(2.06,109)(2.15,109)(2.24,109)(2.33,109)
(1.66,112)(1.75,112)(1.84,112)(1.93,112)(2.02,112)(2.11,112)(2.20,112)(2.29,112)
(1.70,115)(1.79,115)(1.88,115)(1.97,115)(2.06,115)(2.15,115)(2.24,115)(2.33,115)
(1.66,118)(1.75,118)(1.84,118)(1.93,118)(2.02,118)(2.11,118)(2.20,118)(2.29,118)
(1.75,121)(1.84,121)(1.93,121)(2.02,121)(2.11,121)(2.20,121)
(1.79,124)(1.88,124)(1.97,124)(2.06,124)(2.15,124)
(1.84,127)(1.93,127)(2.02,127)(2.11,127)(1.88,130)(1.97,130)(2.06,130)
(1.84,133)(1.93,133)(2.02,133)(2.11,133)(1.88,136)(1.97,136)(2.06,136)
(1.93,139)(2.02,139)(1.97,142)};
\addplot[sqr, gpred, mark size=1.9bp, line width=0.8bp] coordinates {
(2.75,87)(2.84,87)(2.93,87)(3.02,87)(3.11,87)(3.20,87)
(2.57,90)(2.66,90)(2.75,90)(2.84,90)(2.93,90)(3.02,90)(3.11,90)(3.20,90)(3.29,90)
(2.53,93)(2.62,93)(2.71,93)(2.80,93)(2.89,93)(2.98,93)(3.07,93)(3.16,93)(3.25,93)(3.34,93)
(2.57,96)(2.66,96)(2.75,96)(2.84,96)(2.93,96)(3.02,96)(3.11,96)(3.20,96)(3.29,96)
(2.62,99)(2.71,99)(2.80,99)(2.89,99)(2.98,99)(3.07,99)(3.16,99)(3.25,99)
(2.66,102)(2.75,102)(2.84,102)(2.93,102)(3.02,102)(3.11,102)(3.20,102)
(2.75,105)(2.84,105)(2.93,105)(3.02,105)(3.11,105)
(2.84,108)(2.93,108)(3.02,108)(3.11,108)(2.89,111)(2.98,111)(3.07,111)(2.93,114)(3.02,114)(3.03,137)};
\addplot[mgray, line width=1bp] coordinates {(0.5,128)(1.5,128)};
\addplot[mgray, line width=1bp] coordinates {(1.62,120)(2.38,120)};
\addplot[mgray, line width=1bp] coordinates {(2.5,98)(3.4,98)};
\pbar{1.03}{3.04}{269.3}{\textit{P}<0.0001}
\pbar{1.03}{2.06}{250}{\textit{P}<0.05}
\end{axis}

% ---------------- k
\begin{axis}[ts, at={(327bp,-492.3bp)}, width=130bp, height=87.7bp,
  ymin=85, ymax=115, xtick={0,40,...,160}, ytick={85,90,...,115},
  ylabel={Cytosolic fluorescence\\(\% baseline)},
  legend style={at={(1.038,0.918)}, anchor=north west}]
\addlegendimage{black}\addlegendentry{Control}
\addlegendimage{gpblue}\addlegendentry{H-89}
\addlegendimage{gpred}\addlegendentry{U-73122}
\addplot[gpred, line width=0.9bp] coordinates {(0,101)(4,100.7)(8,101.2)(12,102.3)(16,101.2)(20,102.3)(24,101)(28,101.2)(32,100.5)(36,100.3)(40,99.5)(44,99.2)(48,98.8)(52,98.5)(56,98.3)(60,98.6)(64,98.2)(68,98.8)(72,98.7)(76,99.2)(80,99.4)(84,100)(88,99.8)(92,100.3)(96,100.5)(100,101)(104,100.8)(108,101.6)(112,101.2)(116,102.4)(120,101.6)(124,101.2)(128,101)(132,101.5)(136,101)(140,101.2)(144,101.5)(148,101.8)(152,102)(156,102.3)(159,102.5)};
\addplot[gpblue, line width=0.9bp] coordinates {(0,101.6)(4,99)(8,98.3)(12,97.7)(16,98.3)(20,101)(22.5,105.6)(26.7,110.4)(30.8,105.6)(34.9,101)(39,99.3)(43,100)(47,97.4)(51,98.6)(55,96.3)(59,98)(63,95.7)(67,97.4)(73.6,96.3)(79.8,94.6)(86,95.7)(90,95.1)(92,94)(98,93)(102,95)(106,94.6)(110,92.5)(114.5,93)(118,94.5)(122.7,95)(127,93.5)(131,94)(135,93)(139,91.2)(145,92.3)(151,90)(155.4,95)(159.5,94)};
\addplot[black, line width=0.9bp] coordinates {(0,101)(3,100)(6,99)(9,100.5)(12,101)(14,99)(16,98)(18,100)(20,100.6)(22,98)(24,95.6)(26,97)(28,98.3)(30,100)(32,104)(34,107)(36,110)(38,111.5)(40,112.7)(42,112.3)(44,111.6)(46,110.5)(48,110.4)(50,109.5)(52,108.3)(54,109)(56,110.8)(58,109.5)(60,107.5)(62,107)(64,108.5)(66,109)(68,106.5)(70,105.6)(72,108.5)(74,110.4)(76,108)(78,106.4)(80,105)(82,104.3)(84,104)(86,105)(88,103)(90,101.6)(92,102)(95,103)(98,103.9)(101,102)(104,101.5)(107,101)(110,102.5)(113,104)(116,102.5)(119,101)(122,101.5)(125,102.5)(128,100.5)(131,97.9)(133,98.5)(135,97.4)(137,96)(139,95.6)(141,94.5)(143,93.8)(145,94.5)(147,96)(149,94)(151,92.1)(153,93)(155,95)(157,94.5)(159,93.8)};
\stim{93.5}{115}{116}{10}{Glucagon 100 nM}
\end{axis}

% ---------------- l
\begin{axis}[gp, at={(592.7bp,-493.3bp)}, width=132.3bp, height=87.7bp,
  xmin=0.31, xmax=3.64, ymin=80, ymax=180, xtick={1,2,3}, xticklabels={Control,H-89,U-73122},
  ytick={80,100,...,180}, ylabel={Cytosolic fluorescence\\(\% baseline)}]
\addplot[tri, black, mark size=1.9bp, line width=0.8bp] coordinates {
(0.66,109)(0.74,109)(0.82,109)(0.90,109)(0.98,109)(1.06,109)(1.14,109)(1.22,109)(1.30,109)
(0.70,112)(0.78,112)(0.86,112)(0.94,112)(1.02,112)(1.10,112)(1.18,112)(1.26,112)(1.34,112)
(0.66,115)(0.74,115)(0.82,115)(0.90,115)(0.98,115)(1.06,115)(1.14,115)(1.22,115)(1.30,115)
(0.74,118)(0.82,118)(0.90,118)(0.98,118)(1.06,118)(1.14,118)(1.22,118)
(0.78,121)(0.86,121)(0.94,121)(1.02,121)(1.10,121)(1.18,121)
(0.82,124)(0.90,124)(0.98,124)(1.06,124)(1.14,124)
(0.86,127)(0.94,127)(1.02,127)(1.10,127)
(0.82,130)(0.90,130)(0.98,130)(1.06,130)(1.14,130)
(0.86,133)(0.94,133)(1.02,133)(1.10,133)(0.90,136)(0.98,136)(1.06,136)
(0.94,139)(1.02,139)(0.94,142)(1.02,142)(0.98,145)(0.94,148)(1.02,148)(0.98,151)(1.0,154)};
\addplot[tri, black, mark size=1.9bp] coordinates {(1.0,171)};
\addplot[cir, gpblue, mark size=2.3bp, line width=0.7bp] coordinates {(2.0,162)(1.97,151)(1.98,136)(2.08,135)(1.86,134)(2.13,131)(1.93,128)(2.05,127)(1.82,125)(2.17,124)(1.95,123)(2.10,122)(1.75,121)(2.25,121)(1.88,120)(2.02,119)(2.20,118)(1.80,117)(1.96,116)(2.12,116)(1.70,114)(2.30,114)(1.88,113)(2.05,112)(2.22,112)(1.76,111)(1.95,110)(2.12,110)(2.28,110)(1.85,109)};
\addplot[sqr, gpred, mark size=2bp, line width=0.8bp] coordinates {
(2.55,98)(2.63,98)(2.71,98)(2.79,98)(2.87,98)(2.95,98)(3.03,98)(3.11,98)(3.19,98)(3.27,98)
(2.51,100)(2.59,100)(2.67,100)(2.75,100)(2.83,100)(2.91,100)(2.99,100)(3.07,100)(3.15,100)(3.23,100)(3.31,100)
(2.55,102)(2.63,102)(2.71,102)(2.79,102)(2.87,102)(2.95,102)(3.03,102)(3.11,102)(3.19,102)(3.27,102)
(2.59,104)(2.67,104)(2.75,104)(2.83,104)(2.91,104)(2.99,104)(3.07,104)(3.15,104)(3.23,104)
(2.63,106)(2.71,106)(2.79,106)(2.87,106)(2.95,106)(3.03,106)(3.11,106)(3.19,106)
(2.79,108)(2.87,108)(2.95,108)(3.03,108)(3.11,108)
(2.96,111)(3.04,111)(3.0,114)(2.96,117)(3.04,117)(3.0,120)(3.0,123)(3.0,126)(3.0,129)(3.0,132)(3.0,135)(3.0,138)(3.0,141)(3.0,144)};
\addplot[mgray, line width=1bp] coordinates {(0.62,119)(1.38,119)};
\addplot[mgray, line width=1bp] coordinates {(1.62,121)(2.38,121)};
\addplot[mgray, line width=1bp] coordinates {(2.55,105)(3.35,105)};
\pbar{1.0}{3.03}{185.7}{\textit{P}<0.0001}
\end{axis}

% ---------------- m
\begin{axis}[gp, at={(57.7bp,-629.3bp)}, width=131.3bp, height=88.4bp,
  xmin=0.34, xmax=3.65, ymin=0, ymax=40, xtick={1,2,3}, xticklabels={Control,H-89,U-73122},
  ytick={0,10,...,40}, ylabel={Cytosolic\\responding cells (\%)}]
\addplot[tri, black, mark size=2.2bp, line width=0.7bp] coordinates {(0.88,36.2)(1.09,36.2)(1.1,33.2)(0.9,31.7)(0.98,29.9)(1.0,24)(0.85,21.1)(1.05,20)(0.88,13)(1.04,12.1)(1.0,2)};
\addplot[cir, gpblue, mark size=2.2bp, line width=0.7bp] coordinates {(2.0,17.3)(1.75,5.3)(1.87,6.2)(2.0,6.2)(2.13,6.2)(2.29,6.2)(1.87,3.8)(1.87,2)(2.13,2)};
\addplot[sqr, gpred, mark size=2.2bp, line width=0.7bp] coordinates {(3.0,18.3)(3.0,2.4)(3.0,0.9)};
\addplot[mgray, line width=1bp] coordinates {(0.63,24)(1.34,24)};
\addplot[mgray, line width=1bp] coordinates {(1,20.7)(1,27.3)};
\addplot[mgray, line width=1bp] coordinates {(0.82,27.3)(1.17,27.3)};
\addplot[mgray, line width=1bp] coordinates {(0.82,20.7)(1.17,20.7)};
\addplot[mgray, line width=1bp] coordinates {(1.67,6.1)(2.33,6.1)};
\addplot[mgray, line width=1bp] coordinates {(2,4.3)(2,7.9)};
\addplot[mgray, line width=1bp] coordinates {(1.83,7.9)(2.17,7.9)};
\addplot[mgray, line width=1bp] coordinates {(1.83,4.3)(2.17,4.3)};
\addplot[mgray, line width=1bp] coordinates {(2.67,7.5)(3.33,7.5)};
\addplot[mgray, line width=1bp] coordinates {(3,2)(3,13)};
\addplot[mgray, line width=1bp] coordinates {(2.83,13)(3.17,13)};
\addplot[mgray, line width=1bp] coordinates {(2.83,2)(3.17,2)};
\pbar{1.03}{3.04}{44.2}{\textit{P}<0.05}
\pbar{1.03}{2.06}{40}{\textit{P}<0.001}
\end{axis}

% ---------------- n
\begin{axis}[gp, legbox, at={(321.7bp,-628.4bp)}, width=137.6bp, height=89.3bp,
  xmin=0.286, xmax=5.2, ymin=0, ymax=450, xtick={1.5,4.071}, xticklabels={- Glucagon,+ Glucagon},
  ytick={0,100,...,400}, ylabel={V\textsubscript{PDH}\\\rate},
  legend style={at={(1.0,0.993)}, anchor=north west}]
\addlegendimage{fill=black}\addlegendentry{WT}
\addlegendimage{fill=gpred}\addlegendentry{\livko}
\addplot[bar, fill=black, bar width=0.65] coordinates {(1,5)(3.571,33)};
\addplot[bar, fill=gpred, bar width=0.65] coordinates {(2,1.5)(4.571,2)};
\addplot[black, line width=0.8bp] coordinates {(3.571,33)(3.571,40)};
\addplot[black, line width=0.8bp] coordinates {(3.45,40)(3.69,40)};
\addplot[wdot] coordinates {(0.76,5)(0.9,13)(1.04,9)(1.18,5)(1.3,4)(1.0,2)(1.72,2)(1.86,1)(2.0,3)(2.14,1)(2.28,2)(3.27,52)(3.42,48)(3.57,55)(3.72,52)(3.87,50)(3.4,35)(3.62,40)(3.5,28)(3.57,1)(4.27,2)(4.42,4)(4.57,3)(4.72,3)(4.87,2)};
\pbar{1.58}{3.59}{383}{\textit{P}=0.009}
\pbar{3.7}{4.63}{383}{\textit{P}=0.009}
\end{axis}

% ---------------- o
\begin{axis}[gp, legbox, at={(592.7bp,-628.4bp)}, width=135.3bp, height=89.3bp,
  xmin=0.31, xmax=5.14, ymin=0, ymax=450, xtick={1.5,4.071}, xticklabels={- Glucagon,+ Glucagon},
  ytick={0,100,...,400}, ylabel={V\textsubscript{PK}\\\rate},
  legend style={at={(0.969,1.0)}, anchor=north west}]
\addlegendimage{fill=black}\addlegendentry{WT}
\addlegendimage{fill=gpred}\addlegendentry{\livko}
\addplot[bar, fill=black, bar width=0.65] coordinates {(1,38)(3.571,15)};
\addplot[bar, fill=gpred, bar width=0.65] coordinates {(2,20)(4.571,18)};
\addplot[black, line width=0.8bp] coordinates {(4.571,12)(4.571,26)};
\addplot[black, line width=0.8bp] coordinates {(4.45,26)(4.69,26)};
\addplot[wdot] coordinates {(0.72,40)(0.86,35)(1.0,52)(1.14,38)(1.28,40)(0.85,8)(1.12,8)(1.72,18)(1.84,28)(1.96,38)(2.08,42)(2.2,30)(2.32,22)(1.9,12)(2.15,15)(3.25,5)(3.4,20)(3.55,32)(3.7,35)(3.85,10)(3.55,8)(3.95,5)(4.25,5)(4.4,15)(4.57,55)(4.72,20)(4.88,8)(4.6,25)};
\end{axis}

% ---------------- p
\begin{axis}[gp, at={(47.7bp,-777.3bp)}, width=144bp, height=85bp,
  xmin=0.21, xmax=2.67, ymin=0, ymax=500, xtick={1,2}, xticklabels={WT,{\livko}},
  ytick={0,100,...,500}, ylabel={V\textsubscript{CS}\\\rate},
  title={Somatostatin+basal insulin infusion},
  title style={at={(0.5,1)}, anchor=south, yshift=9bp, inner sep=0pt, font=\fontsize{7.9}{9}\selectfont\bfseries}]
\addplot[bar, fill=black, bar width=0.6] coordinates {(1,345)};
\addplot[bar, fill=gpred, bar width=0.48] coordinates {(2,145)};
\addplot[black, line width=0.9bp] coordinates {(1,345)(1,393)};
\addplot[black, line width=0.9bp] coordinates {(0.87,393)(1.13,393)};
\addplot[black, line width=0.9bp] coordinates {(2,145)(2,160)};
\addplot[black, line width=0.9bp] coordinates {(1.87,160)(2.13,160)};
\addplot[wdot] coordinates {(1.0,490)(1.0,460)(1.0,290)(1.0,265)(1.0,232)(1.84,186)(2.08,186)(1.84,132)(1.96,138)(2.2,130)};
\pbar{1.0}{1.97}{500}{\textit{P}=0.004}
\end{axis}

% ---------------- q
\begin{axis}[gp, legbox, at={(325bp,-771bp)}, width=138bp, height=91.3bp,
  xmin=0.286, xmax=5.214, ymin=0, ymax=6, xtick={1.5,4.071}, xticklabels={- Glucagon,+ Glucagon},
  ytick={0,2,...,6}, ylabel={Oxygen consumption rate\\(fold basal)},
  legend style={at={(0.993,0.978)}, anchor=north west}]
\addlegendimage{fill=black}\addlegendentry{WT}
\addlegendimage{fill=gpred}\addlegendentry{\livko}
\addplot[bar, fill=black, bar width=0.714] coordinates {(1,1.0)(3.571,1.25)};
\addplot[bar, fill=gpred, bar width=0.714] coordinates {(2,1.0)(4.571,0.96)};
\addplot[wdot, mark size=2.2bp] coordinates {
(0.64,0.55)(0.82,0.55)(1.0,0.55)(1.18,0.55)(1.36,0.55)(0.73,0.7)(0.91,0.7)(1.09,0.7)(1.27,0.7)
(0.64,0.85)(0.82,0.85)(1.0,0.85)(1.18,0.85)(1.36,0.85)(0.73,1.0)(0.91,1.0)(1.09,1.0)(1.27,1.0)
(0.82,1.15)(1.0,1.15)(1.18,1.15)(0.91,1.3)(1.09,1.3)(0.82,1.45)(1.0,1.45)(1.18,1.45)(0.91,1.6)(1.09,1.6)(1.0,1.75)(0.91,1.9)(1.09,1.9)(1.0,2.05)
(1.73,0.35)(1.91,0.35)(2.09,0.35)(2.27,0.35)(1.64,0.5)(1.82,0.5)(2.0,0.5)(2.18,0.5)(2.36,0.5)
(1.73,0.65)(1.91,0.65)(2.09,0.65)(2.27,0.65)(1.64,0.8)(1.82,0.8)(2.0,0.8)(2.18,0.8)(2.36,0.8)
(1.73,0.95)(1.91,0.95)(2.09,0.95)(2.27,0.95)(1.82,1.1)(2.0,1.1)(2.18,1.1)(1.73,1.25)(1.91,1.25)(2.09,1.25)(2.27,1.25)
(1.82,1.4)(2.0,1.4)(2.18,1.4)(1.91,1.55)(2.09,1.55)(1.82,1.7)(2.0,1.7)(2.18,1.7)(2.0,1.85)
(3.21,0.6)(3.39,0.6)(3.57,0.6)(3.75,0.6)(3.93,0.6)(3.30,0.75)(3.48,0.75)(3.66,0.75)(3.84,0.75)
(3.21,0.9)(3.39,0.9)(3.57,0.9)(3.75,0.9)(3.93,0.9)(3.30,1.05)(3.48,1.05)(3.66,1.05)(3.84,1.05)
(3.39,1.2)(3.57,1.2)(3.75,1.2)(3.48,1.35)(3.66,1.35)(3.39,1.5)(3.57,1.5)(3.75,1.5)(3.48,1.65)(3.66,1.65)(3.57,1.8)(3.48,2.0)(3.62,2.0)
(3.36,2.9)(3.36,3.1)(3.36,3.3)(3.36,3.5)(3.36,3.7)(3.36,3.9)(3.36,4.1)(3.36,4.3)(3.36,4.5)(3.36,4.7)(3.36,4.9)(3.36,5.05)
(4.21,0.6)(4.39,0.6)(4.57,0.6)(4.75,0.6)(4.93,0.6)(4.30,0.75)(4.48,0.75)(4.66,0.75)(4.84,0.75)
(4.21,0.9)(4.39,0.9)(4.57,0.9)(4.75,0.9)(4.93,0.9)(4.30,1.05)(4.48,1.05)(4.66,1.05)(4.84,1.05)
(4.39,1.2)(4.57,1.2)(4.75,1.2)(4.48,1.35)(4.66,1.35)(4.39,1.5)(4.57,1.5)(4.75,1.5)(4.48,1.65)(4.66,1.65)(4.57,1.8)};
\pbar{1.65}{3.5}{5.58}{\textit{P}=0.003}
\pbar{3.62}{4.75}{5.58}{\textit{P}<0.0001}
\end{axis}

% ---------------- r
\begin{axis}[gp, at={(592.7bp,-775bp)}, width=130bp, height=87.3bp,
  xmin=0.333, xmax=2.688, ymin=0, ymax=40, xtick={1,2}, xticklabels={WT,{\livko}},
  ytick={0,10,...,40}, ylabel={Liver TAG\\(mg g\textsuperscript{-1})}]
\addplot[bar, fill=black, bar width=0.68] coordinates {(1,16.2)};
\addplot[bar, fill=gpred, bar width=0.65] coordinates {(2,13.7)};
\addplot[black, line width=0.9bp] coordinates {(1,13.7)(1,18.7)};
\addplot[black, line width=0.9bp] coordinates {(0.87,18.7)(1.13,18.7)};
\addplot[black, line width=0.9bp] coordinates {(2,11.7)(2,15.7)};
\addplot[black, line width=0.9bp] coordinates {(1.87,15.7)(2.13,15.7)};
\addplot[black, line width=0.9bp] coordinates {(1.87,11.7)(2.13,11.7)};
\addplot[wdot] coordinates {(1.0,32)(1.0,22.5)(0.82,19)(0.91,19)(1.0,19)(1.09,19)(1.18,19.3)(0.97,15.5)(0.88,10.3)(1.1,10.5)(0.85,3.5)(1.05,4)(2.01,23)(1.84,18.5)(1.93,18.5)(2.04,18.8)(2.16,19.6)(2.16,18)(2.05,15.5)(1.82,8)(1.96,7.8)(2.12,7)(1.98,4.8)};
\end{axis}
\end{tikzpicture}
\end{document}
